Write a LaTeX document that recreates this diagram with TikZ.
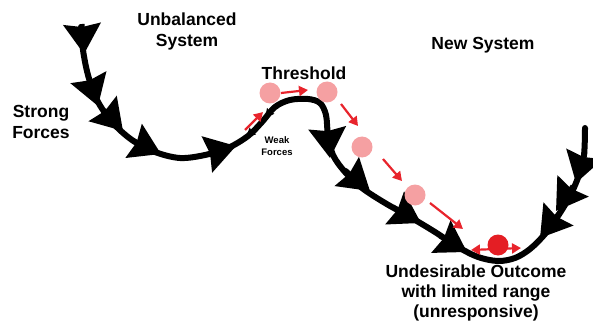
\documentclass[tikz,border=0pt]{standalone}
\usepackage{fontspec}
\setmainfont{Liberation Sans}
\usetikzlibrary{arrows.meta}
\definecolor{pinkball}{RGB}{245,160,162}
\definecolor{redarr}{RGB}{232,36,44}
\definecolor{redball}{RGB}{228,30,36}
\tikzset{
  curveline/.style={line width=6pt, black, line cap=round, line join=round},
  bigtip/.style={line width=5pt, black, -{Stealth[length=30pt 0 0,width=37pt 0 0,inset=3pt 0]}},
  smalltip/.style={line width=2pt, black, -{Stealth[length=9pt 0 0,width=9pt 0 0,inset=1pt 0]}},
  redarrow/.style={line width=2.2pt, redarr, -{Triangle[length=9pt 0 0,width=10pt 0 0]}},
  pinkdot/.style={fill=pinkball, draw=none},
  label/.style={font=\bfseries\fontsize{17.5}{21}\selectfont, align=center, inner sep=0pt},
  smalllabel/.style={font=\bfseries\fontsize{9.5}{12}\selectfont, align=center, inner sep=0pt}
}
\begin{document}
\begin{tikzpicture}[x=1pt,y=-1pt]
\useasboundingbox (0,0) rectangle (593,323);
% main curve
\draw[curveline] plot[smooth, tension=0.55] coordinates {
 (81,27) (83,50) (88,75) (97,100) (112,122) (132,140) (155,152) (180,158) (205,155)
 (228,148) (248,136) (262,122) (275,107) (290,100) (308,99) (320,103) (326,115)
 (328,135) (333,155) (345,172) (362,188) (385,203) (410,217) (435,232) (458,247)
 (478,257) (498,261) (515,258) (530,249) (545,234) (558,216) (570,196) (579,175)
 (584,155) (585,128)};
% big arrowheads
\coordinate (a1s) at (82,24);  \coordinate (a1t) at (84,54);
\coordinate (a2s) at (88,76);  \coordinate (a2t) at (98,106);
\coordinate (a3s) at (104,110); \coordinate (a3t) at (123,131);
\coordinate (a4s) at (134,141); \coordinate (a4t) at (161,154);
\coordinate (a5s) at (205,155); \coordinate (a5t) at (236,146);
\coordinate (a6s) at (327,126); \coordinate (a6t) at (330,158);
\coordinate (a7s) at (345,170); \coordinate (a7t) at (370,191);
\coordinate (a8s) at (393,207); \coordinate (a8t) at (421,223);
\coordinate (a9s) at (440,236); \coordinate (a9t) at (467,252);
\coordinate (a10s) at (560,212); \coordinate (a10t) at (540,238);
\coordinate (a11s) at (573,186); \coordinate (a11t) at (556,211);
\coordinate (a12s) at (585,152); \coordinate (a12t) at (576,183);
\foreach \i in {1,...,12}{\draw[bigtip] (a\i s) -- (a\i t);}
% weak force barbs
\coordinate (w1s) at (273,108); \coordinate (w1t) at (265,118);
\coordinate (w2s) at (255,129); \coordinate (w2t) at (246,137);
\draw[smalltip] (w1s) -- (w1t);
\draw[smalltip] (w2s) -- (w2t);
% red arrows
\coordinate (r1s) at (245,130); \coordinate (r1t) at (263,112);
\coordinate (r2s) at (281,93);  \coordinate (r2t) at (308,90);
\coordinate (r3s) at (341,104); \coordinate (r3t) at (358,126);
\coordinate (r4s) at (383,159); \coordinate (r4t) at (402,181);
\coordinate (r5s) at (430,203); \coordinate (r5t) at (463,229);
\foreach \i in {1,...,5}{\draw[redarrow] (r\i s) -- (r\i t);}
\coordinate (dl) at (471,250); \coordinate (dr) at (521,248);
\draw[redarrow, {Triangle[length=9pt 0 0,width=10pt 0 0]}-{Triangle[length=9pt 0 0,width=10pt 0 0]}] (dl) -- (dr);
% balls
\fill[pinkdot] (270,93) circle[radius=10.5pt];
\fill[pinkdot] (327,92) circle[radius=10.5pt];
\fill[pinkdot] (362,147) circle[radius=10.5pt];
\fill[pinkdot] (415,195) circle[radius=10.5pt];
\fill[redball] (498,245) circle[radius=10.5pt];
% labels
\node[label] (unb) at (187,31) {Unbalanced\\System};
\node[label] (strong) at (41,122) {Strong\\Forces};
\node[label] (thr) at (304,73) {Threshold};
\node[label] (new) at (483,45) {New System};
\node[smalllabel] (weak) at (277,146) {Weak\\Forces};
\node[label, font=\bfseries\fontsize{17.5}{20}\selectfont] (und) at (476,293) {Undesirable Outcome\\with limited range\\(unresponsive)};
\end{tikzpicture}
\end{document}
